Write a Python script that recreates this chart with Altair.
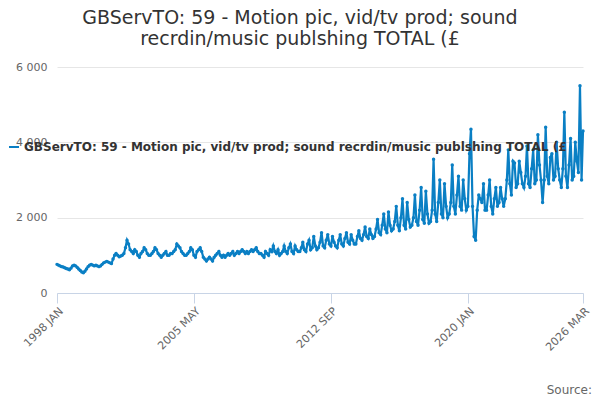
import altair as alt
import pandas as pd

SERIES = "GBServTO: 59 - Motion pic, vid/tv prod; sound recrdin/music publshing TOTAL (£"

y1998 = [760, 740, 720, 700, 690, 670, 650, 640, 620, 660, 720, 740]
y1999 = [720, 680, 640, 600, 560, 540, 580, 640, 700, 740, 760, 740]
y2000 = [720, 740, 720, 700, 720, 760, 800, 820, 840, 820, 800, 780]
y2001 = [900, 1000, 1050, 1000, 960, 980, 1000, 1050, 1200, 1400, 1300, 1150]
y2002 = [1100, 1050, 1150, 1100, 1000, 950, 1050, 1100, 1200, 1150, 1050, 1000]
y2003 = [1000, 1050, 1100, 1200, 1150, 1050, 1000, 950, 1000, 1050, 1100, 1000]
y2004 = [1000, 1050, 1050, 1100, 1150, 1300, 1250, 1200, 1100, 1050, 1000, 1000]
y2005 = [1050, 1100, 1200, 1150, 1000, 950, 1100, 1150, 1200, 1100, 950, 900]
y2006 = [850, 900, 950, 900, 850, 950, 1000, 1050, 1100, 1000, 950, 1000]
y2007 = [950, 1000, 1050, 1000, 1050, 1100, 1000, 1050, 1100, 1050, 1100, 1150]
y2008 = [1100, 1050, 1100, 1050, 1100, 1150, 1100, 1150, 1200, 1100, 1050, 1050]
y2009 = [1000, 950, 1100, 1050, 1000, 1150, 1100, 1250, 1100, 1050, 1150, 1000]
y2010 = [1050, 1100, 1250, 1100, 1050, 1200, 1300, 1100, 1050, 1250, 1150, 1100]
y2011 = [1100, 1200, 1350, 1150, 1100, 1300, 1400, 1150, 1200, 1500, 1250, 1150]
y2012 = [1200, 1350, 1600, 1250, 1200, 1400, 1550, 1300, 1250, 1500, 1350, 1250]
y2013 = [1200, 1400, 1550, 1300, 1250, 1450, 1600, 1350, 1300, 1550, 1400, 1300]
y2014 = [1300, 1500, 1650, 1450, 1400, 1550, 1750, 1500, 1450, 1700, 1550, 1450]
y2015 = [1500, 1700, 1950, 1600, 1550, 1800, 2100, 1700, 1600, 2150, 1800, 1650]
y2016 = [1700, 1900, 2300, 1800, 1650, 2000, 2500, 1800, 1700, 2400, 1950, 1750]
y2017 = [1800, 2000, 2600, 1900, 1800, 2200, 2800, 1950, 1850, 2700, 2100, 1850]
y2018 = [1900, 2200, 3550, 2100, 1900, 2400, 3000, 2100, 2000, 2900, 2300, 2000]
y2019 = [2100, 2400, 3400, 2300, 2100, 2600, 3100, 2300, 2200, 3000, 2500, 2200]
y2020 = [2300, 3700, 4350, 2300, 1500, 1400, 2200, 2600, 2500, 2400, 2900, 2200]
y2021 = [2200, 2600, 3000, 2300, 2100, 2500, 2800, 2300, 2400, 2800, 2500, 2300]
y2022 = [2500, 3000, 3800, 2900, 2600, 3500, 3450, 2800, 2900, 3500, 3200, 2900]
y2023 = [2800, 3100, 3900, 2900, 2800, 3300, 3800, 2900, 3000, 4200, 3400, 3000]
y2024 = [2400, 3000, 4400, 3100, 2900, 3600, 3700, 3000, 3100, 4000, 3300, 3000]
y2025 = [2800, 3300, 4800, 3100, 2800, 3400, 4100, 3000, 3100, 4000, 3500, 3200]
y2026 = [5500, 3000, 4300]

years = [y1998, y1999, y2000, y2001, y2002, y2003, y2004, y2005, y2006, y2007,
         y2008, y2009, y2010, y2011, y2012, y2013, y2014, y2015, y2016, y2017,
         y2018, y2019, y2020, y2021, y2022, y2023, y2024, y2025, y2026]
values = [v for yr in years for v in yr]
dates = pd.date_range("1998-01-01", periods=len(values), freq="MS")
df = pd.DataFrame({"date": dates, "value": values, "series": SERIES})

tick_dates = ["1998-01-01", "2005-05-01", "2012-09-01", "2020-01-01", "2026-03-01"]
tick_values = [alt.DateTime(year=int(d[:4]), month=int(d[5:7]), date=1) for d in tick_dates]

blue = "#0a7fc4"
font = "DejaVu Sans"

line = alt.Chart(df).mark_line(
    color=blue, strokeWidth=2.2, point=alt.OverlayMarkDef(size=12, color=blue, filled=True)
).encode(
    x=alt.X("date:T", title=None, scale=alt.Scale(domain=["1998-01-01", "2026-03-01"]),
            axis=alt.Axis(values=tick_values, labelAngle=-45, labelAlign="right",
                          labelExpr="upper(timeFormat(datum.value, '%Y %b'))",
                          grid=False, domainColor="#c8d4e6", tickColor="#c8d4e6",
                          tickSize=10, labelColor="#666", labelFontSize=11, labelFont=font)),
    y=alt.Y("value:Q", title=None, scale=alt.Scale(domain=[0, 6000]),
            axis=alt.Axis(values=[0, 2000, 4000, 6000], domain=False, ticks=False,
                          labelExpr="replace(format(datum.value, ','), ',', ' ')",
                          gridColor="#e6e6e6", labelColor="#666", labelFontSize=11,
                          labelFont=font, labelPadding=10)),
    color=alt.Color("series:N", scale=alt.Scale(range=[blue]),
                    legend=alt.Legend(title=None, orient="none", legendX=-49, legendY=74,
                                      labelFontSize=12, labelFontWeight="bold",
                                      labelColor="#333", labelLimit=1000, labelFont=font,
                                      symbolType="stroke", symbolStrokeWidth=2)),
)

source = alt.Chart(pd.DataFrame({"t": ["Source:"]})).mark_text(
    align="right", fontSize=12, color="#666", font=font
).encode(x=alt.value(535), y=alt.value(323), text="t:N")

chart = alt.layer(line, source).properties(
    width=526, height=226,
    autosize=alt.AutoSizeParams(type="none"),
    padding={"left": 49, "top": 59, "right": 9, "bottom": 107},
    title=alt.TitleParams(
        ["GBServTO: 59 - Motion pic, vid/tv prod; sound", "recrdin/music publshing TOTAL (£"],
        fontSize=19, fontWeight="normal", color="#333", font=font, dx=-20, offset=12,
    ),
).configure_view(stroke=None)

chart.save("out.html", embed_options={"renderer": "svg", "actions": False})
